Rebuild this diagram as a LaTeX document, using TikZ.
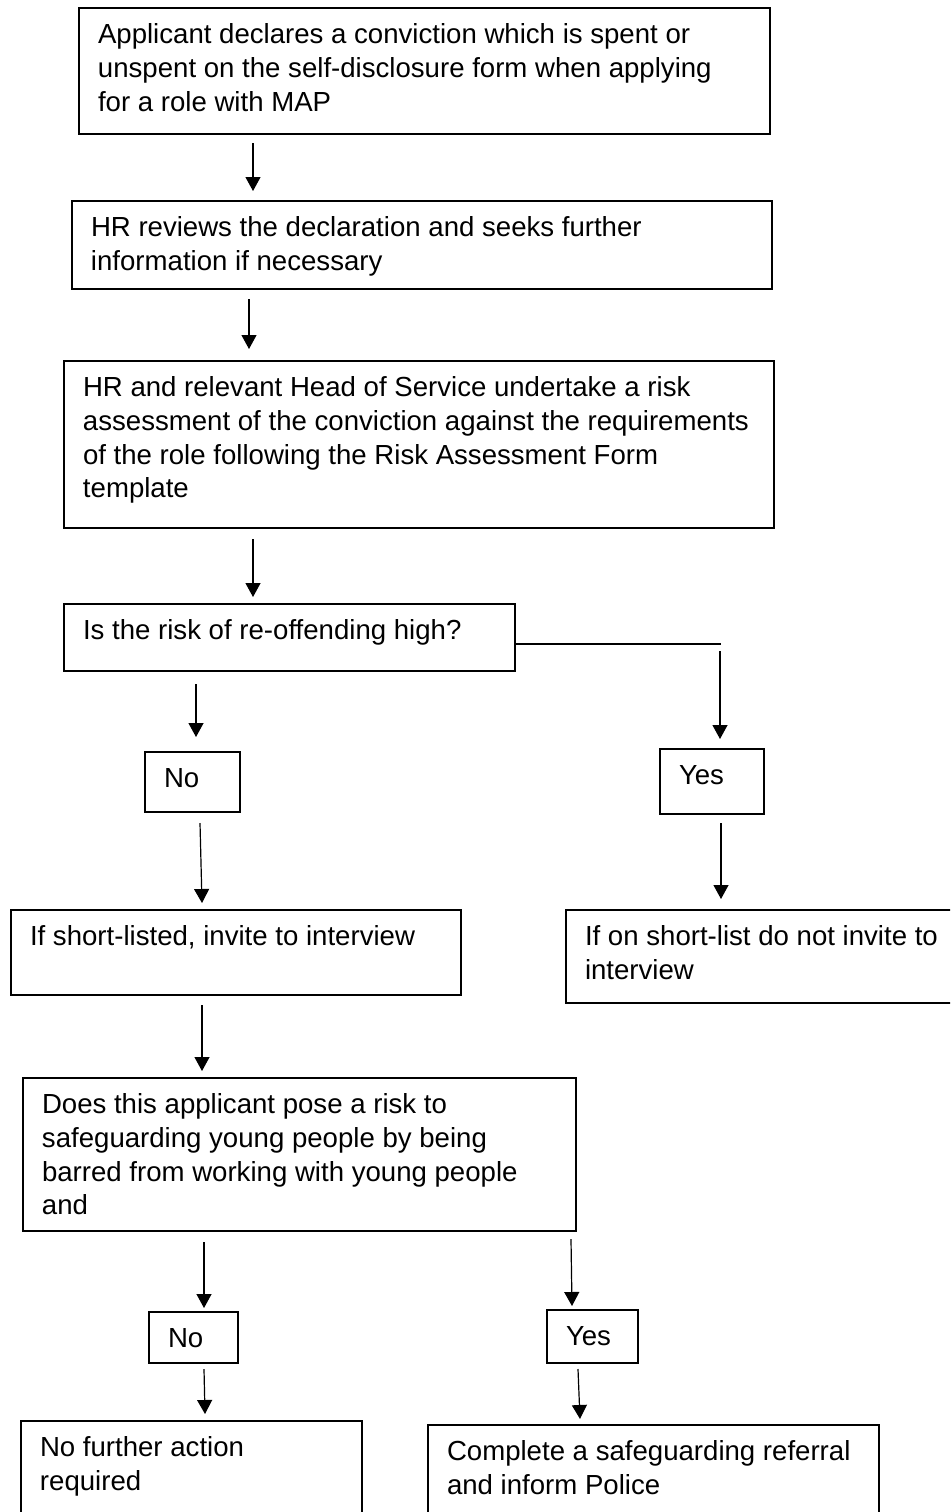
\documentclass[tikz,border=0pt]{standalone}
\usepackage{fontspec}
\setmainfont{Liberation Sans}[Ligatures=NoCommon]
\usetikzlibrary{arrows.meta}
\newcommand\bxt[3]{\parbox[c][\dimexpr #2pt/2\relax][t]{\dimexpr #1pt/2\relax}{\raggedright\leftskip=9.5pt\rule{0pt}{17.75pt}#3}}
\tikzset{
  box/.style={draw=black, line width=1pt, inner sep=0pt, outer sep=0pt, anchor=north west,
    font=\fontsize{13.8}{16.9}\selectfont},
  arr/.style={line width=0.6pt, -{Triangle[width=7.5pt,length=7pt]}},
  link/.style={line width=1pt}
}
\begin{document}
\begin{tikzpicture}[x=0.5pt,y=-0.5pt]
\useasboundingbox (0,0) rectangle (950,1512);
\clip (0,0) rectangle (950,1512);
\fill[white] (0,0) rectangle (950,1512);

\node[box] (b1) at (79,8) {\bxt{691}{126}{Applicant declares a conviction which is spent or\\unspent on the self-disclosure form when applying\\for a role with MAP}};
\node[box] (b2) at (72,201) {\bxt{700}{88}{HR reviews the declaration and seeks further\\information if necessary}};
\node[box] (b3) at (64,361) {\bxt{710}{167}{HR and relevant Head of Service undertake a risk\\assessment of the conviction against the requirements\\of the role following the Risk Assessment Form\\template}};
\node[box] (b4) at (64,604) {\bxt{451}{67}{Is the risk of re-offending high?}};
\node[box] (no1) at (145,752) {\bxt{95}{60}{No}};
\node[box] (yes1) at (660,749) {\bxt{104}{65}{Yes}};
\node[box] (sl) at (11,910) {\bxt{450}{85}{If short-listed, invite to interview}};
\node[box] (osl) at (566,910) {\bxt{394}{93}{If on short-list do not invite to\\interview}};
\node[box] (q2) at (23,1078) {\bxt{553}{153}{Does this applicant pose a risk to\\safeguarding young people by being\\barred from working with young people\\and}};
\node[box] (no2) at (149,1312) {\bxt{89}{51}{No}};
\node[box] (yes2) at (547,1310) {\bxt{91}{53}{Yes}};
\node[box] (nfa) at (21,1421) {\bxt{341}{110}{No further action\\required}};
\node[box] (csr) at (428,1425) {\bxt{451}{106}{Complete a safeguarding referral\\and inform Police}};

\draw[arr] ([shift={(174,9)}]b1.south west) -- ([shift={(181,-10)}]b2.north west);
\draw[arr] ([shift={(177,10)}]b2.south west) -- ([shift={(185,-12)}]b3.north west);
\draw[arr] ([shift={(189,11)}]b3.south west) -- ([shift={(189,-7)}]b4.north west);

\coordinate (c1) at ([shift={(206,6.5)}]b4.east);
\draw[link] (c1 -| b4.east) -- (c1);
\draw[arr] ([shift={(-1,7)}]c1) -- ([shift={(60,-10)}]yes1.north west);
\draw[arr] ([shift={(132,13)}]b4.south west) -- ([shift={(51,-15)}]no1.north west);

\draw[arr] ([shift={(55,11)}]no1.south west) -- ([shift={(191,-7)}]sl.north west);
\draw[arr] ([shift={(61,9)}]yes1.south west) -- ([shift={(155,-11)}]osl.north west);
\draw[arr] ([shift={(191,10)}]sl.south west) -- ([shift={(179,-7)}]q2.north west);

\draw[arr] ([shift={(181,11)}]q2.south west) -- ([shift={(55,-4)}]no2.north west);
\draw[arr] ([shift={(548,8)}]q2.south west) -- ([shift={(25,-4)}]yes2.north west);
\draw[arr] ([shift={(55,6)}]no2.south west) -- ([shift={(184,-7)}]nfa.north west);
\draw[arr] ([shift={(31,6)}]yes2.south west) -- ([shift={(152,-6)}]csr.north west);
\end{tikzpicture}
\end{document}
